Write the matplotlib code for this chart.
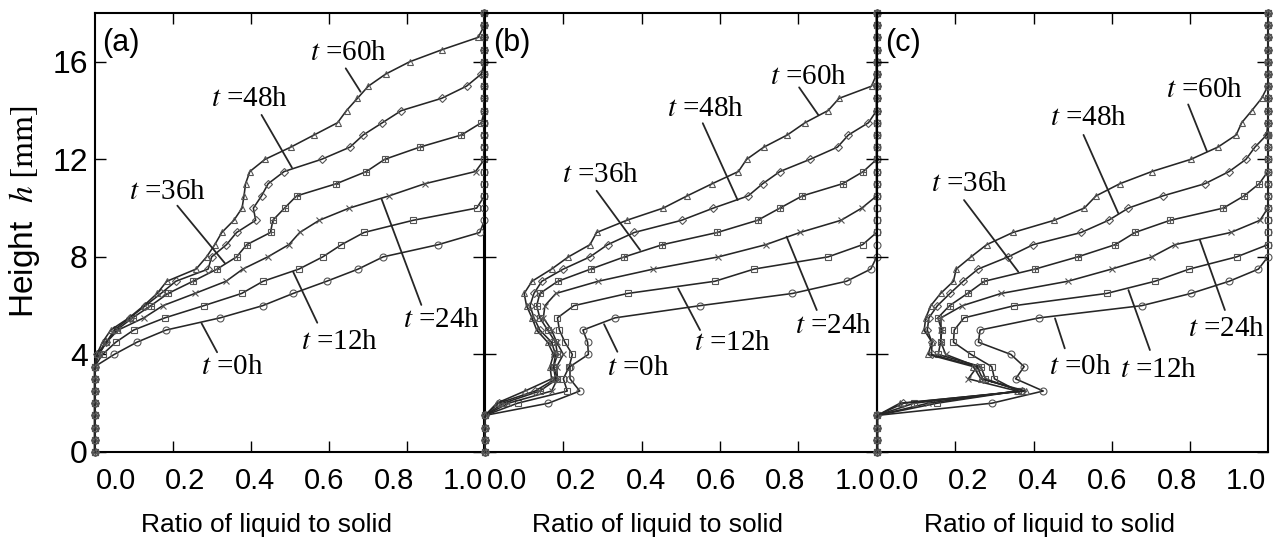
import matplotlib.pyplot as plt
import numpy as np

plt.rcParams['font.family'] = ['Liberation Sans', 'DejaVu Sans']
plt.rcParams['mathtext.fontset'] = 'stix'

# sampled heights h [mm]
heights = [0, 0.5, 1, 1.5, 2, 2.5, 3, 3.5, 4, 4.5, 5, 5.5, 6, 6.5, 7, 7.5, 8, 8.5,
           9, 9.5, 10, 10.5, 11, 11.5, 12, 12.5, 13, 13.5, 14, 14.5, 15, 15.5, 16,
           16.5, 17, 17.5, 18]

times = ['0h', '12h', '24h', '36h', '48h', '60h']

# panel (a)
a_0h = [0, 0, 0, 0, 0, 0, 0, 0,
        0.05, 0.108, 0.183, 0.322, 0.431, 0.509, 0.595, 0.676, 0.74, 0.881, 0.988,
        1, 1, 1, 1, 1, 1, 1, 1, 1, 1, 1, 1, 1, 1, 1, 1, 1, 1]
a_12h = [0, 0, 0, 0, 0, 0, 0, 0,
         0.02, 0.054, 0.10, 0.18, 0.28, 0.377, 0.432, 0.524, 0.585, 0.633, 0.691, 0.817, 0.98,
         1, 1, 1, 1, 1, 1, 1, 1, 1, 1, 1, 1, 1, 1, 1, 1]
a_24h = [0, 0, 0, 0, 0, 0, 0, 0,
         0.01, 0.03, 0.06, 0.126, 0.175, 0.257, 0.337, 0.38, 0.444, 0.498, 0.526, 0.576,
         0.653, 0.755, 0.847, 0.977,
         1, 1, 1, 1, 1, 1, 1, 1, 1, 1, 1, 1, 1]
a_36h = [0, 0, 0, 0, 0, 0, 0, 0,
         0.01, 0.03, 0.056, 0.097, 0.144, 0.188, 0.252, 0.314, 0.364, 0.39, 0.451, 0.457,
         0.487, 0.518, 0.62, 0.697, 0.744, 0.834, 0.941, 0.992,
         1, 1, 1, 1, 1, 1, 1, 1, 1]
a_48h = [0, 0, 0, 0, 0, 0, 0, 0,
         0.005, 0.03, 0.05, 0.09, 0.13, 0.17, 0.208, 0.291, 0.30, 0.338, 0.364, 0.413,
         0.407, 0.428, 0.445, 0.486, 0.582, 0.655, 0.689, 0.738, 0.787, 0.89, 0.954, 0.992,
         1, 1, 1, 1, 1]
a_60h = [0, 0, 0, 0, 0, 0, 0, 0,
         0.005, 0.02, 0.041, 0.088, 0.126, 0.16, 0.185, 0.26, 0.287, 0.308, 0.326, 0.357,
         0.378, 0.383, 0.387, 0.398, 0.437, 0.503, 0.563, 0.623, 0.646, 0.674, 0.702, 0.747,
         0.808, 0.892, 0.984,
         1, 1]

# panel (b)
b_0h = [0, 0, 0, 0,
        0.162, 0.242, 0.217, 0.217, 0.264, 0.262, 0.25, 0.332, 0.549, 0.785, 0.923, 0.985,
        1, 1, 1, 1, 1, 1, 1, 1, 1, 1, 1, 1, 1, 1, 1, 1, 1, 1, 1, 1, 1]
b_12h = [0, 0, 0, 0,
         0.083, 0.21, 0.20, 0.215, 0.223, 0.204, 0.19, 0.185, 0.227, 0.364, 0.587, 0.687,
         0.876, 0.964,
         1, 1, 1, 1, 1, 1, 1, 1, 1, 1, 1, 1, 1, 1, 1, 1, 1, 1, 1]
b_24h = [0, 0, 0, 0,
         0.06, 0.17, 0.185, 0.183, 0.20, 0.183, 0.17, 0.149, 0.153, 0.181, 0.289, 0.43,
         0.596, 0.717, 0.804, 0.909, 0.962,
         1, 1, 1, 1, 1, 1, 1, 1, 1, 1, 1, 1, 1, 1, 1, 1]
b_36h = [0, 0, 0, 0,
         0.047, 0.14, 0.185, 0.175, 0.185, 0.18, 0.16, 0.14, 0.132, 0.14, 0.186, 0.27,
         0.356, 0.453, 0.593, 0.696, 0.753, 0.81, 0.913, 0.966,
         1, 1, 1, 1, 1, 1, 1, 1, 1, 1, 1, 1, 1]
b_48h = [0, 0, 0, 0,
         0.035, 0.128, 0.18, 0.175, 0.18, 0.17, 0.14, 0.125, 0.115, 0.125, 0.145, 0.20,
         0.268, 0.313, 0.381, 0.502, 0.583, 0.672, 0.709, 0.753, 0.83, 0.90, 0.928, 0.979,
         1, 1, 1, 1, 1, 1, 1, 1, 1]
b_60h = [0, 0, 0, 0,
         0.03, 0.102, 0.17, 0.166, 0.175, 0.16, 0.132, 0.12, 0.106, 0.10, 0.12, 0.17,
         0.213, 0.268, 0.285, 0.362, 0.455, 0.516, 0.58, 0.647, 0.668, 0.712, 0.772, 0.817,
         0.876, 0.904, 0.987,
         1, 1, 1, 1, 1, 1]

# panel (c)
c_0h = [0, 0, 0, 0,
        0.293, 0.425, 0.354, 0.376, 0.342, 0.259, 0.263, 0.415, 0.677, 0.803, 0.901, 0.976,
        1, 1, 1, 1, 1, 1, 1, 1, 1, 1, 1, 1, 1, 1, 1, 1, 1, 1, 1, 1, 1]
c_12h = [0, 0, 0, 0,
         0.153, 0.36, 0.30, 0.293, 0.24, 0.195, 0.197, 0.222, 0.351, 0.587, 0.711, 0.799,
         0.92,
         1, 1, 1, 1, 1, 1, 1, 1, 1, 1, 1, 1, 1, 1, 1, 1, 1, 1, 1, 1]
c_24h = [0, 0, 0, 0,
         0.13, 0.358, 0.233, 0.256, 0.175, 0.163, 0.163, 0.163, 0.218, 0.317, 0.488, 0.60,
         0.703, 0.762, 0.905, 0.98,
         1, 1, 1, 1, 1, 1, 1, 1, 1, 1, 1, 1, 1, 1, 1, 1, 1]
c_36h = [0, 0, 0, 0,
         0.094, 0.367, 0.277, 0.265, 0.156, 0.162, 0.165, 0.155, 0.185, 0.231, 0.274, 0.404,
         0.513, 0.609, 0.66, 0.75, 0.886, 0.939, 0.978,
         1, 1, 1, 1, 1, 1, 1, 1, 1, 1, 1, 1, 1, 1]
c_48h = [0, 0, 0, 0,
         0.067, 0.37, 0.27, 0.255, 0.139, 0.14, 0.128, 0.132, 0.154, 0.186, 0.22, 0.258,
         0.335, 0.399, 0.522, 0.592, 0.643, 0.731, 0.839, 0.901, 0.944, 0.967, 0.997,
         1, 1, 1, 1, 1, 1, 1, 1, 1, 1]
c_60h = [0, 0, 0, 0,
         0.058, 0.38, 0.265, 0.246, 0.13, 0.14, 0.12, 0.124, 0.137, 0.162, 0.195, 0.202,
         0.24, 0.28, 0.347, 0.453, 0.53, 0.56, 0.621, 0.703, 0.803, 0.872, 0.919, 0.933,
         0.959, 0.984,
         1, 1, 1, 1, 1, 1, 1]

xtick_labels = ['0.0', '0.2', '0.4', '0.6', '0.8', '1.0']

# label text centre, leader line start, leader line end (data coords)
notes_a = {'0h': ((0.352, 3.49), (0.274, 5.28), (0.314, 4.09)),
           '12h': ((0.629, 4.51), (0.509, 7.39), (0.571, 5.30)),
           '24h': ((0.891, 5.41), (0.838, 6.03), (0.736, 10.37)),
           '36h': ((0.188, 10.66), (0.212, 10.10), (0.334, 7.74)),
           '48h': ((0.396, 14.47), (0.428, 13.82), (0.506, 11.66)),
           '60h': ((0.652, 16.36), (0.644, 15.73), (0.682, 14.77))}
notes_b = {'0h': ((0.390, 3.44), (0.304, 5.24), (0.338, 4.11)),
           '12h': ((0.633, 4.47), (0.493, 6.71), (0.549, 5.00)),
           '24h': ((0.891, 5.17), (0.847, 5.82), (0.770, 8.83)),
           '36h': ((0.296, 11.36), (0.285, 10.71), (0.396, 8.28)),
           '48h': ((0.562, 14.06), (0.556, 13.48), (0.645, 10.33)),
           '60h': ((0.827, 15.37), (0.802, 14.95), (0.851, 13.82))}
notes_c = {'0h': ((0.519, 3.49), (0.455, 5.48), (0.480, 4.25)),
           '12h': ((0.721, 3.36), (0.643, 6.64), (0.698, 4.18)),
           '24h': ((0.893, 5.04), (0.890, 5.82), (0.826, 8.69)),
           '36h': ((0.235, 10.99), (0.222, 10.33), (0.361, 7.39)),
           '48h': ((0.540, 13.69), (0.528, 13.00), (0.617, 9.79)),
           '60h': ((0.837, 14.84), (0.796, 14.25), (0.844, 12.33))}

panels = [('(a)', [a_0h, a_12h, a_24h, a_36h, a_48h, a_60h], notes_a, 0.0740, 0.3045),
          ('(b)', [b_0h, b_12h, b_24h, b_36h, b_48h, b_60h], notes_b, 0.3789, 0.3060),
          ('(c)', [c_0h, c_12h, c_24h, c_36h, c_48h, c_60h], notes_c, 0.6854, 0.3051)]

markers = ['o', 's', 'x', 's', 'D', '^']
sizes = [5, 5, 5, 5, 4, 5]
line_col = '#262626'
mark_col = '#555555'

fig = plt.figure(figsize=(12.8, 5.5), dpi=100)

for i, (tag, series, notes, left, width) in enumerate(panels):
    ax = fig.add_axes([left, 0.1782, width, 0.7982])
    ax.patch.set_visible(False)

    for t, vals, mk, ms in zip(times, series, markers, sizes):
        ax.plot(vals, heights, color=line_col, lw=1.15, marker=mk, ms=ms,
                mfc='none', mec=mark_col, mew=0.8, clip_on=False, zorder=3)
        if t == '36h':
            # boxed plus marker
            ax.plot(vals, heights, ls='none', marker='+', ms=5, mec=mark_col,
                    mew=0.8, clip_on=False, zorder=3)

    for t, (txt, p0, p1) in notes.items():
        ax.annotate('', xy=p1, xytext=p0,
                    arrowprops=dict(arrowstyle='-', color=line_col, lw=1.3,
                                    shrinkA=0, shrinkB=0))
        ax.text(txt[0], txt[1], r'$t$ =' + t, fontsize=21, ha='center', va='center',
                family='Liberation Serif')

    ax.text(0.02, 0.965, tag, transform=ax.transAxes, fontsize=22, ha='left', va='top')

    ax.set_xlim(0, 1)
    ax.set_ylim(0, 18)

    ax.set_xticks(np.linspace(0.055, 0.945, 6))
    ax.set_xticklabels(xtick_labels)
    ax.tick_params(axis='x', which='major', length=0, pad=11, labelsize=21)
    ax.set_xticks([0.2, 0.4, 0.6, 0.8], minor=True)
    ax.tick_params(axis='x', which='minor', direction='in', length=8, width=1,
                   top=True, bottom=True)

    ax.set_yticks([0, 4, 8, 12, 16])
    ax.tick_params(axis='y', direction='in', length=8, width=1, left=True, right=True,
                   labelsize=23, pad=5)
    if i > 0:
        ax.set_yticklabels([])

    for s in ax.spines.values():
        s.set_linewidth(1.5)

    ax.set_xlabel('Ratio of liquid to solid', fontsize=19, va='top')
    ax.xaxis.set_label_coords(0.44, -0.14)

fig.text(0.0195, 0.6145, r'Height  $h\ \mathrm{[mm]}$', rotation=90, fontsize=24,
         ha='center', va='center')

fig.savefig('out.png', dpi=100)
